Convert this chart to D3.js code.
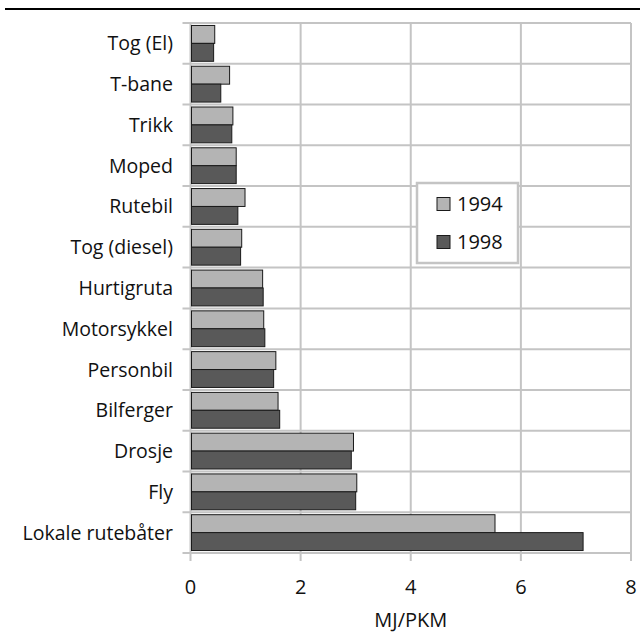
<!DOCTYPE html>
<html>
<head>
<meta charset="utf-8">
<script src="https://cdn.jsdelivr.net/npm/d3@7"></script>
<style>
  html, body { margin: 0; padding: 0; background: #fff; }
  svg { display: block; font-family: "Open Sans", "Noto Sans", sans-serif; }
</style>
</head>
<body>
<svg id="chart" width="640" height="632"></svg>
<script>
// Energy use per passenger-km by mode of transport, 1994 vs 1998
const categories = ["Tog (El)", "T-bane", "Trikk", "Moped", "Rutebil", "Tog (diesel)",
  "Hurtigruta", "Motorsykkel", "Personbil", "Bilferger", "Drosje", "Fly", "Lokale rutebåter"];
const values1994 = [0.44, 0.71, 0.77, 0.83, 0.99, 0.93, 1.31, 1.33, 1.55, 1.59, 2.96, 3.02, 5.53];
const values1998 = [0.42, 0.55, 0.75, 0.83, 0.86, 0.91, 1.32, 1.35, 1.51, 1.62, 2.92, 3.00, 7.13];
const seriesNames = ["1994", "1998"];
const seriesColors = ["#b4b4b4", "#595959"];
const xTicks = [0, 2, 4, 6, 8];
const xTitle = "MJ/PKM";

const svg = d3.select("#chart");
const gridColor = "#c4c4c4";
const textColor = "#111";

const plotLeft = 190.5, plotRight = 631, plotTop = 23, plotBottom = 553;

const x = d3.scaleLinear().domain([0, 8]).range([plotLeft, plotRight]);
const y = d3.scaleBand().domain(categories).range([plotTop, plotBottom]).paddingInner(0).paddingOuter(0);
const inner = d3.scaleBand().domain(seriesNames).range([0, y.bandwidth()]).paddingInner(0).paddingOuter(0.138);

// rule above the plot
svg.append("line").attr("x1", 5).attr("x2", 640).attr("y1", 9).attr("y2", 9)
  .attr("stroke", "#000").attr("stroke-width", 2);

// horizontal gridlines at category boundaries, extending left as tick marks
const bounds = categories.map(c => y(c)).concat([plotBottom]);
svg.append("g").selectAll("line").data(bounds).join("line")
  .attr("x1", plotLeft - 8).attr("x2", plotRight)
  .attr("y1", d => d).attr("y2", d => d)
  .attr("stroke", gridColor).attr("stroke-width", 2);

// vertical gridlines, extending below as tick marks
svg.append("g").selectAll("line").data(xTicks).join("line")
  .attr("x1", d => x(d)).attr("x2", d => x(d))
  .attr("y1", plotTop).attr("y2", plotBottom + 8)
  .attr("stroke", gridColor).attr("stroke-width", 2);

// bars
const rows = categories.map((c, i) => ({ cat: c, vals: [values1994[i], values1998[i]] }));
const groups = svg.append("g").selectAll("g").data(rows).join("g")
  .attr("transform", d => `translate(0,${y(d.cat)})`);
groups.selectAll("rect").data(d => d.vals.map((v, j) => ({ v, s: seriesNames[j], c: seriesColors[j] })))
  .join("rect")
  .attr("x", x(0) + 1)
  .attr("y", d => inner(d.s))
  .attr("width", d => x(d.v) - x(0) - 1)
  .attr("height", inner.bandwidth())
  .attr("fill", d => d.c)
  .attr("stroke", "#1a1a1a").attr("stroke-width", 1);

// category labels
svg.append("g").selectAll("text").data(categories).join("text")
  .attr("x", 173).attr("y", d => y(d) + y.bandwidth() / 2)
  .attr("dy", "0.36em").attr("text-anchor", "end")
  .attr("font-size", 19.5).attr("fill", textColor)
  .text(d => d);

// x tick labels
svg.append("g").selectAll("text").data(xTicks).join("text")
  .attr("x", d => x(d)).attr("y", 594)
  .attr("text-anchor", "middle").attr("font-size", 20).attr("fill", textColor)
  .text(d => d);

// axis title
svg.append("text").attr("x", (plotLeft + plotRight) / 2).attr("y", 627)
  .attr("text-anchor", "middle").attr("font-size", 20).attr("fill", textColor)
  .text(xTitle);

// legend
const lg = svg.append("g");
lg.append("rect").attr("x", 417).attr("y", 183).attr("width", 101).attr("height", 80)
  .attr("fill", "#fff").attr("stroke", gridColor).attr("stroke-width", 2.5);
seriesNames.forEach((s, i) => {
  const cy = 204 + i * 38;
  lg.append("rect").attr("x", 437).attr("y", cy - 6.5).attr("width", 13).attr("height", 13)
    .attr("fill", seriesColors[i]).attr("stroke", "#1a1a1a").attr("stroke-width", 1);
  lg.append("text").attr("x", 457).attr("y", cy).attr("dy", "0.36em")
    .attr("font-size", 20).attr("fill", textColor).text(s);
});
</script>
</body>
</html>
